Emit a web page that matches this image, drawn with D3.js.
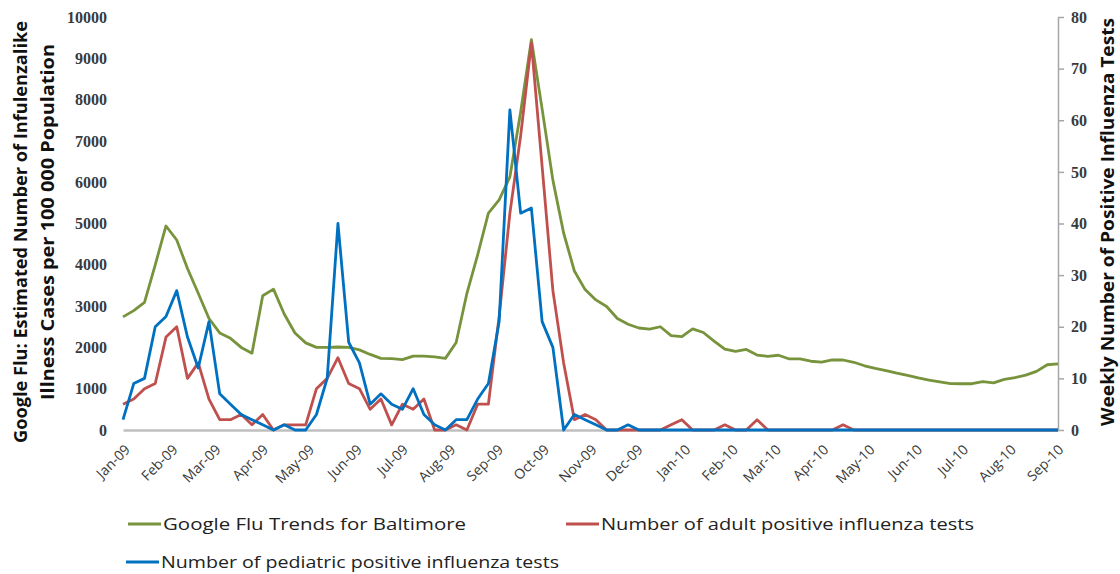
<!DOCTYPE html>
<html>
<head>
<meta charset="utf-8">
<script src="https://cdn.jsdelivr.net/npm/d3@7"></script>
<style>
  body { margin: 0; background: #fff; }
  svg { display: block; }
  .num { font-family: "Liberation Serif", serif; font-size: 16px; font-weight: bold; fill: #3a3a3a; }
  .xlab { font-family: "Open Sans", sans-serif; font-size: 14px; fill: #3a3a3a; }
  .title { font-family: "Open Sans", sans-serif; font-size: 18px; font-weight: bold; fill: #111; }
  .legend { font-family: "Open Sans", sans-serif; font-size: 16px; fill: #222; }
</style>
</head>
<body>
<svg id="chart" width="1120" height="574"></svg>
<script>
// weekly values, first week starting Jan 1 2009
var gftBaltimore = [
  2740, 2890, 3090, 4000, 4940, 4600, 3910, 3310, 2700, 2350,
  2220, 2000, 1860, 3250, 3410, 2810, 2350, 2110, 2000, 2000,
  2010, 2000, 1940, 1830, 1735, 1730, 1705, 1790, 1790, 1770,
  1735, 2120, 3310, 4240, 5250, 5570, 6130, 7700, 9450, 7770,
  6050, 4770, 3850, 3400, 3150, 2990, 2700, 2560, 2470, 2440,
  2500, 2285, 2260, 2450, 2360, 2150, 1960, 1905, 1950, 1815,
  1785, 1810, 1720, 1720, 1665, 1645, 1700, 1695, 1640, 1555,
  1490, 1440, 1375, 1320, 1260, 1210, 1165, 1125, 1120, 1120,
  1170, 1140, 1225, 1270, 1330, 1420, 1580, 1600
];
var adultTests = [
  5, 6, 8, 9, 18, 20, 10, 13, 6, 2,
  2, 3, 1, 3, 0, 1, 1, 1, 8, 10,
  14, 9, 8, 4, 6, 1, 5, 4, 6, 0,
  0, 1, 0, 5, 5, 22, 42, 57, 75, 51,
  27, 13, 2, 3, 2, 0, 0, 0, 0, 0,
  0, 1, 2, 0, 0, 0, 1, 0, 0, 2,
  0, 0, 0, 0, 0, 0, 0, 1, 0, 0,
  0, 0, 0, 0, 0, 0, 0, 0, 0, 0,
  0, 0, 0, 0, 0, 0, 0, 0
];
var pediatricTests = [
  2, 9, 10, 20, 22, 27, 18, 12, 21, 7,
  5, 3, 2, 1, 0, 1, 0, 0, 3, 10,
  40, 17, 13, 5, 7, 5, 4, 8, 3, 1,
  0, 2, 2, 6, 9, 21, 62, 42, 43, 21,
  16, 0, 3, 2, 1, 0, 0, 1, 0, 0,
  0, 0, 0, 0, 0, 0, 0, 0, 0, 0,
  0, 0, 0, 0, 0, 0, 0, 0, 0, 0,
  0, 0, 0, 0, 0, 0, 0, 0, 0, 0,
  0, 0, 0, 0, 0, 0, 0, 0
];
var leftTicks = [0, 1000, 2000, 3000, 4000, 5000, 6000, 7000, 8000, 9000, 10000];
var rightTicks = [0, 10, 20, 30, 40, 50, 60, 70, 80];
var seriesNames = ["Google Flu Trends for Baltimore", "Number of adult positive influenza tests", "Number of pediatric positive influenza tests"];
var seriesColors = ["#77933c", "#c0504d", "#0070c0"];

var firstWeek = new Date(2009, 0, 1);
var weeks = gftBaltimore.map(function(d, i) { return d3.timeDay.offset(firstWeek, 7 * i); });
var months = d3.timeMonth.range(new Date(2009, 0, 1), new Date(2010, 8, 2));

var plotLeft = 123, plotRight = 1058, plotTop = 17, plotBottom = 430;
var svg = d3.select("#chart");

var x = d3.scaleTime().domain([firstWeek, new Date(2010, 8, 2)]).range([plotLeft, plotRight]);
var yL = d3.scaleLinear().domain([0, 10000]).range([plotBottom, plotTop]);
var yR = d3.scaleLinear().domain([0, 80]).range([plotBottom, plotTop]);

// left axis (labels only)
var gl = svg.append("g").attr("transform", "translate(" + plotLeft + ",0)")
  .call(d3.axisLeft(yL).tickValues(leftTicks).tickSize(0).tickPadding(16).tickFormat(d3.format("d")));
gl.select(".domain").remove();
gl.selectAll("text").attr("class", "num");

// right axis
var gr = svg.append("g").attr("transform", "translate(" + plotRight + ",0)")
  .call(d3.axisRight(yR).tickValues(rightTicks).tickSize(6).tickSizeOuter(0).tickPadding(7));
gr.select(".domain").attr("stroke", "#a6a6a6").attr("stroke-width", 1.5);
gr.selectAll(".tick line").attr("stroke", "#a6a6a6").attr("stroke-width", 1.5);
gr.selectAll("text").attr("class", "num");

// bottom axis
var gb = svg.append("g").attr("transform", "translate(0," + plotBottom + ")")
  .call(d3.axisBottom(x).tickValues(months).tickSize(0).tickSizeOuter(0).tickFormat(d3.timeFormat("%b-%y")));
gb.select(".domain").attr("stroke", "#bfbfbf").attr("stroke-width", 2.5);
gb.selectAll("text")
  .attr("class", "xlab")
  .attr("text-anchor", "end")
  .attr("x", 0).attr("y", 0).attr("dy", "0.35em")
  .attr("transform", "translate(4,17) rotate(-45)");

// lines
var lineL = d3.line().x(function(d, i) { return x(weeks[i]); }).y(function(d) { return yL(d); });
var lineR = d3.line().x(function(d, i) { return x(weeks[i]); }).y(function(d) { return yR(d); });

svg.append("path").datum(gftBaltimore).attr("d", lineL)
  .attr("fill", "none").attr("stroke", seriesColors[0]).attr("stroke-width", 2.8).attr("stroke-linejoin", "round");
svg.append("path").datum(adultTests).attr("d", lineR)
  .attr("fill", "none").attr("stroke", seriesColors[1]).attr("stroke-width", 2.8).attr("stroke-linejoin", "round");
svg.append("path").datum(pediatricTests).attr("d", lineR)
  .attr("fill", "none").attr("stroke", seriesColors[2]).attr("stroke-width", 2.8).attr("stroke-linejoin", "round");

// axis titles
svg.append("text").attr("class", "title")
  .attr("transform", "translate(27,232) rotate(-90)").attr("text-anchor", "middle")
  .attr("textLength", 422).attr("lengthAdjust", "spacingAndGlyphs")
  .text("Google Flu: Estimated Number of Infulenzalike");
svg.append("text").attr("class", "title")
  .attr("transform", "translate(54,222) rotate(-90)").attr("text-anchor", "middle")
  .attr("textLength", 356).attr("lengthAdjust", "spacingAndGlyphs")
  .text("Illness Cases per 100 000 Population");
svg.append("text").attr("class", "title")
  .attr("transform", "translate(1114,222) rotate(-90)").attr("text-anchor", "middle")
  .attr("textLength", 408).attr("lengthAdjust", "spacingAndGlyphs")
  .text("Weekly Number of Positive Influenza Tests");

// legend
var legendItems = [
  { x: 128, y: 524, w: 303 },
  { x: 566, y: 524, w: 373 },
  { x: 126, y: 562, w: 398 }
];
legendItems.forEach(function(p, i) {
  svg.append("line").attr("x1", p.x).attr("x2", p.x + 33).attr("y1", p.y).attr("y2", p.y)
    .attr("stroke", seriesColors[i]).attr("stroke-width", 3);
  svg.append("text").attr("class", "legend").attr("x", p.x + 35).attr("y", p.y).attr("dy", "0.35em")
    .attr("textLength", p.w).attr("lengthAdjust", "spacingAndGlyphs")
    .text(seriesNames[i]);
});
</script>
</body>
</html>
